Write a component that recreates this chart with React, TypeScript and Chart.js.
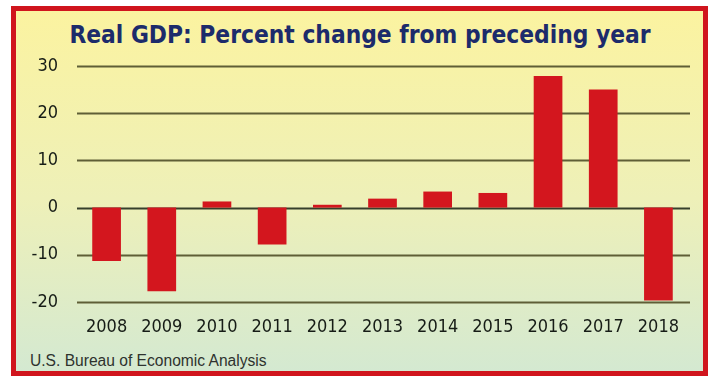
import React, { useEffect, useRef } from "react";
import { Chart, registerables } from "chart.js";

Chart.register(...registerables);

const years = ["2008", "2009", "2010", "2011", "2012", "2013", "2014", "2015", "2016", "2017", "2018"];
const gdpChange = [-11.3, -17.7, 1.3, -7.8, 0.6, 1.9, 3.4, 3.1, 27.9, 25.0, -19.7];
const yMin = -20;
const yMax = 30;
const yStep = 10;
const chartTitle = "Real GDP: Percent change from preceding year";
const sourceNote = "U.S. Bureau of Economic Analysis";

const NARROW = "'Liberation Sans Narrow', 'DejaVu Sans Condensed', 'Arial Narrow', sans-serif";

const gridPlugin = {
  id: "customGrid",
  beforeDatasetsDraw(chart: any) {
    const { ctx, chartArea, scales } = chart;
    const y = scales.y;
    ctx.save();
    for (const t of y.ticks) {
      const py = Math.round(y.getPixelForValue(t.value)) + 0.5;
      ctx.beginPath();
      ctx.lineWidth = 2;
      ctx.strokeStyle = t.value === 0 ? "#363f2c" : "#5f5e36";
      ctx.moveTo(chartArea.left - 2, py);
      ctx.lineTo(chartArea.right + 4, py);
      ctx.stroke();
    }
    ctx.restore();
  },
};

export default function App() {
  const canvasRef = useRef<HTMLCanvasElement | null>(null);

  useEffect(() => {
    document.body.style.margin = "0";
    const canvas = canvasRef.current;
    if (!canvas) return;
    const chart = new Chart(canvas, {
      type: "bar",
      data: {
        labels: years,
        datasets: [
          {
            data: gdpChange,
            backgroundColor: "#d3161e",
            borderWidth: 0,
            categoryPercentage: 1,
            barPercentage: 0.52,
          },
        ],
      },
      options: {
        responsive: false,
        animation: false,
        layout: { padding: { top: 66, right: 25, bottom: 0, left: 0 } },
        plugins: {
          legend: { display: false },
          title: { display: false },
          tooltip: { enabled: false },
        },
        scales: {
          x: {
            grid: { display: false, drawTicks: false },
            border: { display: false },
            ticks: {
              color: "#161c16",
              padding: 15,
              font: { family: NARROW, size: 18 },
            },
            afterFit(scale: any) {
              scale.height = 77;
            },
          },
          y: {
            min: yMin,
            max: yMax,
            grid: { display: false, drawTicks: false },
            border: { display: false },
            ticks: {
              stepSize: yStep,
              color: "#161c16",
              padding: 21,
              font: { family: NARROW, size: 18 },
              callback: (v: any) => String(v),
            },
            afterFit(scale: any) {
              scale.width = 79;
            },
          },
        },
      },
      plugins: [gridPlugin],
    });
    return () => chart.destroy();
  }, []);

  return (
    <div style={{ position: "relative", width: 711, height: 379, overflow: "hidden", background: "#ffffff" }}>
      <div
        style={{
          position: "absolute",
          left: 11,
          top: 6,
          width: 697,
          height: 370,
          boxSizing: "border-box",
          border: "5px solid #d0151d",
          background: "linear-gradient(180deg, #fbf3a0 0%, #eef0b8 52%, #d4e9d1 100%)",
        }}
      />
      <div
        style={{
          position: "absolute",
          left: 0,
          width: 720,
          top: 19,
          textAlign: "center",
          fontFamily: NARROW,
          fontWeight: "bold",
          fontSize: 24.3,
          color: "#1c2b6b",
          lineHeight: "32px",
          whiteSpace: "nowrap",
        }}
      >
        {chartTitle}
      </div>
      <div
        style={{
          position: "absolute",
          left: 30,
          top: 352,
          fontFamily: "'Liberation Sans', Arial, sans-serif",
          fontSize: 15.6,
          color: "#2e322e",
          lineHeight: "18px",
          whiteSpace: "nowrap",
        }}
      >
        {sourceNote}
      </div>
      <canvas
        ref={canvasRef}
        width={711}
        height={379}
        style={{ position: "absolute", left: 0, top: 0, width: 711, height: 379 }}
      />
    </div>
  );
}
